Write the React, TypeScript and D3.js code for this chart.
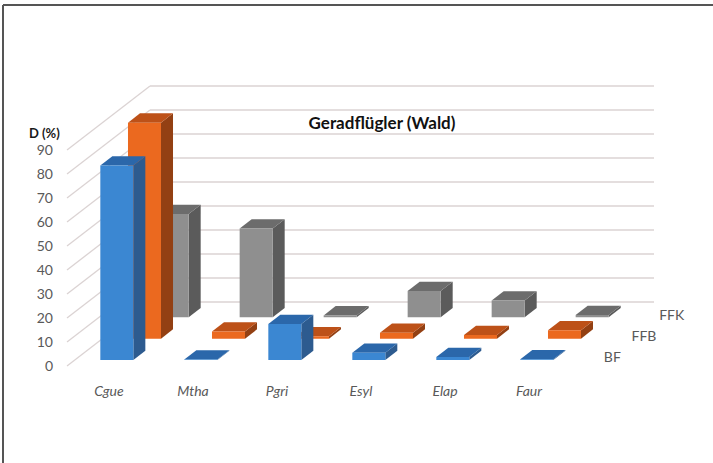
import React from "react";
import * as d3 from "d3";

const categories = ["Cgue", "Mtha", "Pgri", "Esyl", "Elap", "Faur"];
const series = ["BF", "FFB", "FFK"];
const bfValues = [81, 0.2, 15, 3, 1.2, 0.3];
const ffbValues = [90, 3, 1, 2.4, 1.5, 3.5];
const ffkValues = [43, 37, 0.8, 11, 7, 1];
const yTicks = [0, 10, 20, 30, 40, 50, 60, 70, 80, 90];

const seriesValues = [bfValues, ffbValues, ffkValues];
const faceColors = [
  { front: "#3b87d2", side: "#2d5b8f", top: "#2b67aa" },
  { front: "#eb691f", side: "#934013", top: "#bd5118" },
  { front: "#8f8f8f", side: "#5b5b5b", top: "#6c6c6c" },
];

const W = 713;
const H = 463;
const FRONT_LEFT = 67;
const FRONT_RIGHT = 571;
const BASE_Y = 366;
const DEPTH_DX = 83;
const DEPTH_DY = -64;
const FONT = "Lato, 'Open Sans', sans-serif";

export default function App() {
  const x = d3.scaleBand<string>().domain(categories).range([FRONT_LEFT, FRONT_RIGHT]);
  const y = d3.scaleLinear().domain([0, 90]).range([0, 216]);
  const z = d3.scaleBand<string>().domain(series).range([0, 1]);
  const barW = x.step() * 0.393;
  const barD = z.step() * 0.434;

  const P = (px: number, v: number, d: number): [number, number] => [
    px + d * DEPTH_DX,
    BASE_Y - y(v) + d * DEPTH_DY,
  ];
  const poly = (pts: [number, number][]) => pts.map((p) => p.join(",")).join(" ");

  const bars: React.ReactNode[] = [];
  for (let s = series.length - 1; s >= 0; s--) {
    const d0 = (z(series[s]) as number) + (z.step() - barD) / 2;
    const d1 = d0 + barD;
    categories.forEach((c, i) => {
      const v = seriesValues[s][i];
      const cx = (x(c) as number) + x.bandwidth() / 2;
      const x0 = cx - barW / 2;
      const x1 = cx + barW / 2;
      const col = faceColors[s];
      bars.push(
        <g key={`${s}-${i}`}>
          <polygon
            points={poly([P(x1, 0, d0), P(x1, 0, d1), P(x1, v, d1), P(x1, v, d0)])}
            fill={col.side}
          />
          <polygon
            points={poly([P(x0, v, d0), P(x1, v, d0), P(x1, v, d1), P(x0, v, d1)])}
            fill={col.top}
          />
          <polygon
            points={poly([P(x0, 0, d0), P(x1, 0, d0), P(x1, v, d0), P(x0, v, d0)])}
            fill={col.front}
          />
        </g>
      );
    });
  }

  return (
    <svg
      width={W}
      height={H}
      style={{ position: "absolute", left: 0, top: 0, background: "#fff" }}
      fontFamily={FONT}
    >
      <rect x={0} y={0} width={W} height={H} fill="#fff" />
      {yTicks.map((t) => {
        const a = P(FRONT_LEFT, t, 0);
        const b = P(FRONT_LEFT, t, 1);
        const c = P(FRONT_RIGHT, t, 1);
        return (
          <g key={`g${t}`} stroke="#dbd3d3" strokeWidth={1.3} fill="none">
            <line x1={a[0]} y1={a[1]} x2={b[0]} y2={b[1]} />
            <line x1={b[0]} y1={b[1]} x2={c[0]} y2={c[1]} />
          </g>
        );
      })}
      {bars}
      {yTicks.map((t) => (
        <text
          key={`t${t}`}
          x={53}
          y={BASE_Y - y(t)}
          dy="0.35em"
          textAnchor="end"
          fontSize={14}
          fill="#595959"
        >
          {t}
        </text>
      ))}
      <text x={29} y={138} fontSize={13} fontWeight="bold" fill="#1a1a1a">
        D (%)
      </text>
      {categories.map((c) => (
        <text
          key={c}
          x={(x(c) as number) + x.bandwidth() / 2}
          y={396}
          textAnchor="middle"
          fontSize={14}
          fontStyle="italic"
          fill="#595959"
        >
          {c}
        </text>
      ))}
      {series.map((s) => {
        const dc = (z(s) as number) + z.step() / 2;
        const p = P(FRONT_RIGHT, 0, dc);
        return (
          <text key={s} x={p[0] + 19} y={p[1] + 2} dy="0.35em" fontSize={14} fill="#595959">
            {s}
          </text>
        );
      })}
      <text x={382} y={129} textAnchor="middle" fontSize={17} fontWeight="bold" fill="#111">
        Geradflügler (Wald)
      </text>
      <line x1={3} y1={5} x2={W} y2={5} stroke="#555" strokeWidth={2} />
      <line x1={3} y1={5} x2={3} y2={H} stroke="#555" strokeWidth={2} />
    </svg>
  );
}
